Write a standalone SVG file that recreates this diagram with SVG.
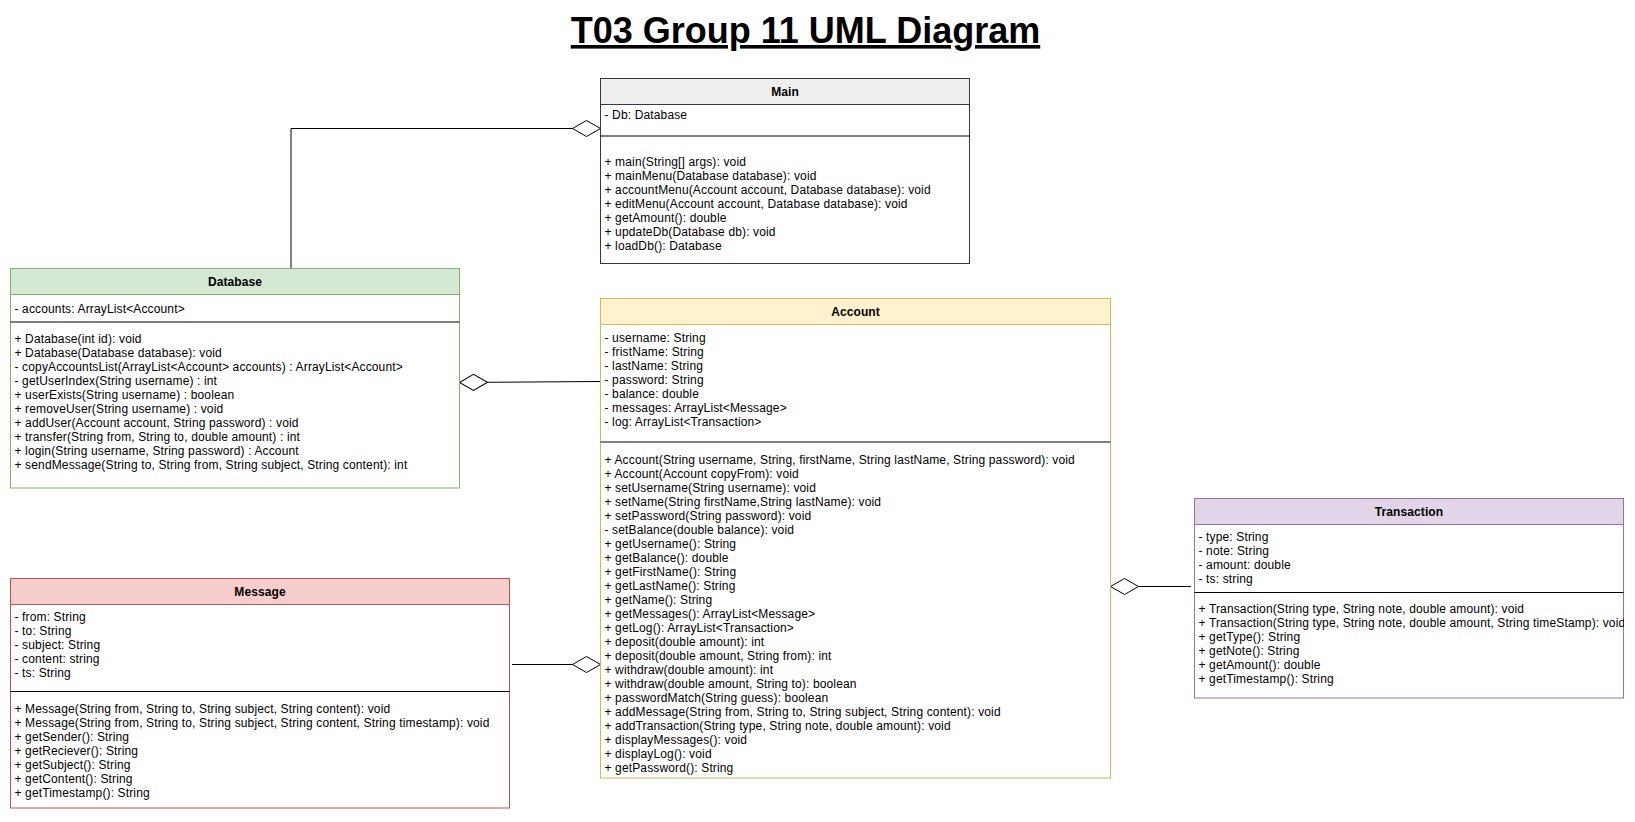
<svg xmlns="http://www.w3.org/2000/svg" width="1635" height="822" viewBox="0 0 1635 822">
<style>
.t{font-family:"Liberation Sans",Arial,Helvetica,sans-serif;font-size:12px;letter-spacing:0.14px;fill:#000}
.h{font-family:"Liberation Sans",Arial,Helvetica,sans-serif;font-size:12px;font-weight:bold;letter-spacing:0.1px;fill:#000;text-anchor:middle}
.title{font-family:"Liberation Sans",Arial,Helvetica,sans-serif;font-size:36px;font-weight:bold;fill:#000;text-anchor:middle;text-decoration:underline}
.div{stroke:#000;stroke-width:1}
.con{fill:none;stroke:#000;stroke-width:1}
</style>
<defs>
<marker id="dia" viewBox="0 0 30 18" refX="29" refY="9" markerWidth="30" markerHeight="18" markerUnits="userSpaceOnUse" orient="auto">
<path d="M1,9 L15,1 L29,9 L15,17 Z" fill="#fff" stroke="#000" stroke-width="1"/>
</marker>
<clipPath id="clipT"><rect x="1194" y="498" width="430" height="200"/></clipPath>
</defs>
<rect width="1635" height="822" fill="#fff"/>
<text class="title" x="805.5" y="43">T03 Group 11 UML Diagram</text>

<g id="connectors">
<path class="con" d="M291,268 V128.5 H600.5" marker-end="url(#dia)"/>
<path class="con" d="M600.5,381.5 L459.5,382.5" marker-end="url(#dia)"/>
<path class="con" d="M512,664.5 H600.5" marker-end="url(#dia)"/>
<path class="con" d="M1191,586.5 H1110.5" marker-end="url(#dia)"/>
</g>

<g id="Main">
<rect x="600.5" y="78.5" width="369" height="185" fill="#fff" stroke="#36393d"/>
<rect x="600.5" y="78.5" width="369" height="26" fill="#eeeeee" stroke="#36393d"/>
<text class="h" x="785" y="95.5">Main</text>
<text class="t" x="604.5" y="119">- Db: Database</text>
<line class="div" x1="600.5" y1="136" x2="969.5" y2="136"/>
<text class="t" x="604.5" y="165.6">+ main(String[] args): void</text>
<text class="t" x="604.5" y="179.6">+ mainMenu(Database database): void</text>
<text class="t" x="604.5" y="193.6">+ accountMenu(Account account, Database database): void</text>
<text class="t" x="604.5" y="207.6">+ editMenu(Account account, Database database): void</text>
<text class="t" x="604.5" y="221.6">+ getAmount(): double</text>
<text class="t" x="604.5" y="235.6">+ updateDb(Database db): void</text>
<text class="t" x="604.5" y="249.6">+ loadDb(): Database</text>
</g>

<g id="Database">
<rect x="10.5" y="268.5" width="449" height="219.5" fill="#fff" stroke="#82b366"/>
<rect x="10.5" y="268.5" width="449" height="26" fill="#d5e8d4" stroke="#82b366"/>
<text class="h" x="235" y="285.5">Database</text>
<text class="t" x="14.5" y="312.5">- accounts: ArrayList&lt;Account&gt;</text>
<line class="div" x1="10.5" y1="322" x2="459.5" y2="322"/>
<text class="t" x="14.5" y="343">+ Database(int id): void</text>
<text class="t" x="14.5" y="357">+ Database(Database database): void</text>
<text class="t" x="14.5" y="371">- copyAccountsList(ArrayList&lt;Account&gt; accounts) : ArrayList&lt;Account&gt;</text>
<text class="t" x="14.5" y="385">- getUserIndex(String username) : int</text>
<text class="t" x="14.5" y="399">+ userExists(String username) : boolean</text>
<text class="t" x="14.5" y="413">+ removeUser(String username) : void</text>
<text class="t" x="14.5" y="427">+ addUser(Account account, String password) : void</text>
<text class="t" x="14.5" y="441">+ transfer(String from, String to, double amount) : int</text>
<text class="t" x="14.5" y="455">+ login(String username, String password) : Account</text>
<text class="t" x="14.5" y="469">+ sendMessage(String to, String from, String subject, String content): int</text>
</g>

<g id="Account">
<rect x="600.5" y="298.5" width="510" height="479.5" fill="#fff" stroke="#d6b656"/>
<rect x="600.5" y="298.5" width="510" height="26" fill="#fff2cc" stroke="#d6b656"/>
<text class="h" x="855.5" y="315.5">Account</text>
<text class="t" x="604.5" y="341.5">- username: String</text>
<text class="t" x="604.5" y="355.5">- fristName: String</text>
<text class="t" x="604.5" y="369.5">- lastName: String</text>
<text class="t" x="604.5" y="383.5">- password: String</text>
<text class="t" x="604.5" y="397.5">- balance: double</text>
<text class="t" x="604.5" y="411.5">- messages: ArrayList&lt;Message&gt;</text>
<text class="t" x="604.5" y="425.5">- log: ArrayList&lt;Transaction&gt;</text>
<line class="div" x1="600.5" y1="442" x2="1110.5" y2="442"/>
<text class="t" x="604.5" y="463.5">+ Account(String username, String, firstName, String lastName, String password): void</text>
<text class="t" x="604.5" y="477.5">+ Account(Account copyFrom): void</text>
<text class="t" x="604.5" y="491.5">+ setUsername(String username): void</text>
<text class="t" x="604.5" y="505.5">+ setName(String firstName,String lastName): void</text>
<text class="t" x="604.5" y="519.5">+ setPassword(String password): void</text>
<text class="t" x="604.5" y="533.5">- setBalance(double balance): void</text>
<text class="t" x="604.5" y="547.5">+ getUsername(): String</text>
<text class="t" x="604.5" y="561.5">+ getBalance(): double</text>
<text class="t" x="604.5" y="575.5">+ getFirstName(): String</text>
<text class="t" x="604.5" y="589.5">+ getLastName(): String</text>
<text class="t" x="604.5" y="603.5">+ getName(): String</text>
<text class="t" x="604.5" y="617.5">+ getMessages(): ArrayList&lt;Message&gt;</text>
<text class="t" x="604.5" y="631.5">+ getLog(): ArrayList&lt;Transaction&gt;</text>
<text class="t" x="604.5" y="645.5">+ deposit(double amount): int</text>
<text class="t" x="604.5" y="659.5">+ deposit(double amount, String from): int</text>
<text class="t" x="604.5" y="673.5">+ withdraw(double amount): int</text>
<text class="t" x="604.5" y="687.5">+ withdraw(double amount, String to): boolean</text>
<text class="t" x="604.5" y="701.5">+ passwordMatch(String guess): boolean</text>
<text class="t" x="604.5" y="715.5">+ addMessage(String from, String to, String subject, String content): void</text>
<text class="t" x="604.5" y="729.5">+ addTransaction(String type, String note, double amount): void</text>
<text class="t" x="604.5" y="743.5">+ displayMessages(): void</text>
<text class="t" x="604.5" y="757.5">+ displayLog(): void</text>
<text class="t" x="604.5" y="771.5">+ getPassword(): String</text>
</g>

<g id="Message">
<rect x="10.5" y="578.5" width="499" height="229.5" fill="#fff" stroke="#b85450"/>
<rect x="10.5" y="578.5" width="499" height="26" fill="#f8cecc" stroke="#b85450"/>
<text class="h" x="260" y="595.5">Message</text>
<text class="t" x="14.5" y="621.3">- from: String</text>
<text class="t" x="14.5" y="635.3">- to: String</text>
<text class="t" x="14.5" y="649.3">- subject: String</text>
<text class="t" x="14.5" y="663.3">- content: string</text>
<text class="t" x="14.5" y="677.3">- ts: String</text>
<line class="div" x1="10.5" y1="691.5" x2="509.5" y2="691.5"/>
<text class="t" x="14.5" y="713">+ Message(String from, String to, String subject, String content): void</text>
<text class="t" x="14.5" y="727">+ Message(String from, String to, String subject, String content, String timestamp): void</text>
<text class="t" x="14.5" y="741">+ getSender(): String</text>
<text class="t" x="14.5" y="755">+ getReciever(): String</text>
<text class="t" x="14.5" y="769">+ getSubject(): String</text>
<text class="t" x="14.5" y="783">+ getContent(): String</text>
<text class="t" x="14.5" y="797">+ getTimestamp(): String</text>
</g>

<g id="Transaction">
<rect x="1194.5" y="498.5" width="429" height="199.5" fill="#fff" stroke="#9673a6"/>
<rect x="1194.5" y="498.5" width="429" height="26" fill="#e1d5e7" stroke="#9673a6"/>
<text class="h" x="1409" y="515.5">Transaction</text>
<g clip-path="url(#clipT)">
<text class="t" x="1198.5" y="541">- type: String</text>
<text class="t" x="1198.5" y="555">- note: String</text>
<text class="t" x="1198.5" y="569">- amount: double</text>
<text class="t" x="1198.5" y="583">- ts: string</text>
<line class="div" x1="1194.5" y1="592.5" x2="1623.5" y2="592.5"/>
<text class="t" x="1198.5" y="613">+ Transaction(String type, String note, double amount): void</text>
<text class="t" x="1198.5" y="627">+ Transaction(String type, String note, double amount, String timeStamp): void</text>
<text class="t" x="1198.5" y="641">+ getType(): String</text>
<text class="t" x="1198.5" y="655">+ getNote(): String</text>
<text class="t" x="1198.5" y="669">+ getAmount(): double</text>
<text class="t" x="1198.5" y="683">+ getTimestamp(): String</text>
</g>
</g>
</svg>
